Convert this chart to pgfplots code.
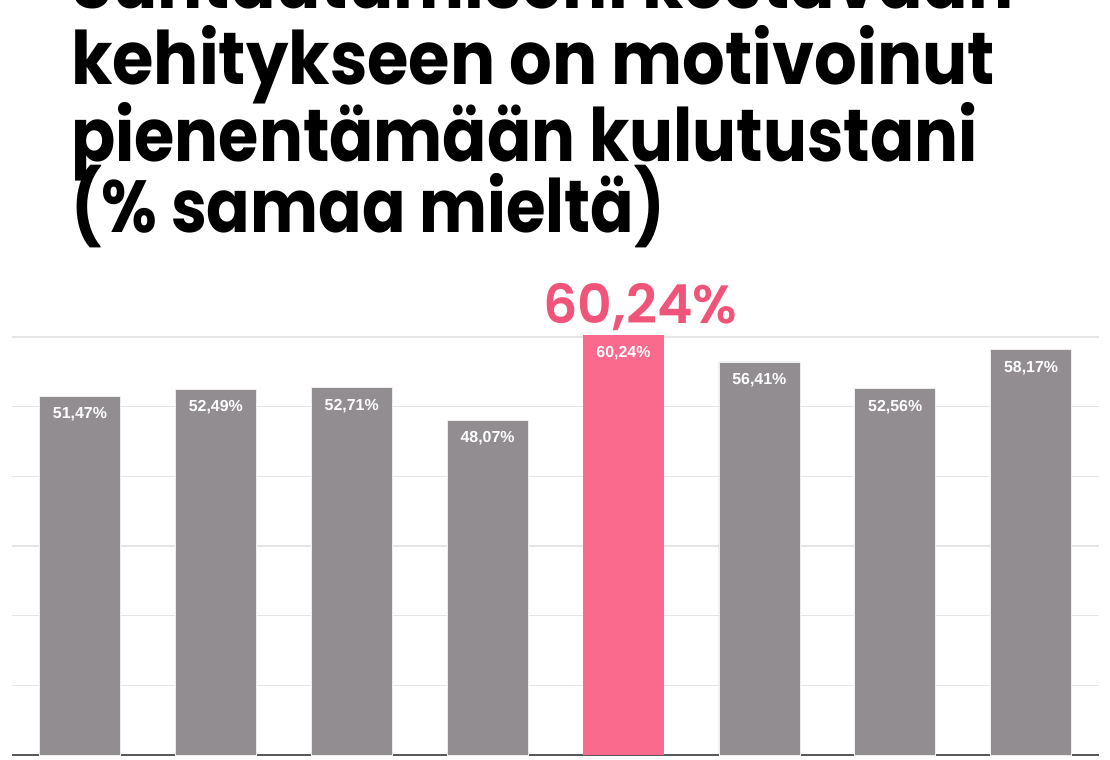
\documentclass[border=0pt]{standalone}
\usepackage{fontspec}
\usepackage{pgfplots}
\pgfplotsset{compat=1.18}
\setmainfont{Liberation Sans}
\newfontfamily\titlefont{Poppins}[UprightFont=* Bold]
\newfontfamily\bigfont{Poppins}[UprightFont=* SemiBold]
\definecolor{bargray}{HTML}{918D91}
\definecolor{barpink}{HTML}{F96A8D}
\definecolor{labpink}{HTML}{F05579}
\definecolor{gridgray}{HTML}{E6E4E6}
\newcommand{\tline}[2][0.91]{\scalebox{#1}[1]{#2}}
\begin{document}
\begin{tikzpicture}[x=1bp,y=1bp]
\useasboundingbox (0,0) rectangle (1110,760);
% title, first line is cut by the top edge
\begin{scope}[every node/.style={anchor=base west,inner sep=0pt,font=\titlefont\fontsize{74}{74}\selectfont}]
\node at (71,751) {\tline{Suhtautumiseni kestävään}};
\node at (71,675) {\tline{kehitykseen on motivoinut}};
\node at (71,598) {\tline[0.885]{pienentämään kulutustani}};
\node at (71,527) {\tline[0.87]{(\% samaa mieltä)}};
\end{scope}
\begin{axis}[
    at={(12bp,5bp)}, anchor=south west,
    scale only axis,
    width=1087bp, height=432bp,
    xmin=-0.5, xmax=7.5,
    ymin=0, ymax=62,
    ytick={10,20,...,60},
    xtick=\empty,
    yticklabels={},
    major tick length=0pt,
    ymajorgrids,
    grid style={gridgray, line width=1.2bp},
    extra y ticks={0},
    extra y tick labels={},
    extra y tick style={grid style={black!65, line width=2.2bp}},
    axis line style={draw=none},
    bar width=81bp,
    clip=false,
    nodes near coords={\pgfmathprintnumber[fixed,fixed zerofill,precision=2,use comma,assume math mode=true]{\pgfplotspointmeta}\%},
    every node near coord/.append style={white, font=\bfseries\fontsize{16}{16}\selectfont, anchor=center, yshift=-18bp},
  ]
  \addplot[ybar, bar shift=0pt, fill=bargray, draw=white!85!bargray, line width=0.6bp] coordinates {
    (0,51.47) (1,52.49) (2,52.71) (3,48.07) (5,56.41) (6,52.56) (7,58.17)};
  \addplot[ybar, bar shift=0pt, fill=barpink, draw=none] coordinates {(4,60.24)};
  \node[anchor=base, xshift=17bp, yshift=12bp, text=labpink, inner sep=0pt,
        font=\bigfont\fontsize{54}{54}\selectfont] at (axis cs:4,60.24) {60,24\%};
\end{axis}
\end{tikzpicture}
\end{document}
